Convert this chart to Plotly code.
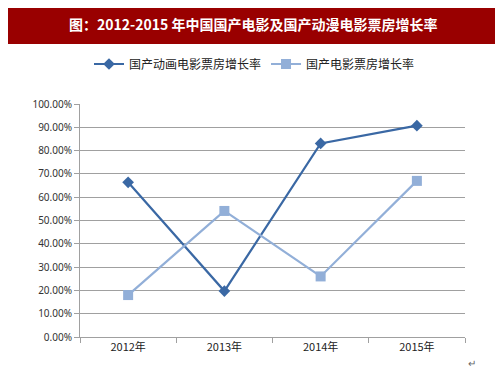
import plotly.graph_objects as go

categories = ["2012年", "2013年", "2014年", "2015年"]
anim_growth = [0.664, 0.197, 0.831, 0.907]
film_growth = [0.18, 0.541, 0.26, 0.67]
series_names = ["国产动画电影票房增长率", "国产电影票房增长率"]
y_ticks = [i / 10 for i in range(11)]
y_tick_labels = [f"{v*100:.2f}%" for v in y_ticks]
title_text = "图：2012-2015 年中国国产电影及国产动漫电影票房增长率"

# page body has an 8px margin; plot area placed at absolute x 80..465, y 104..337
fig = go.Figure()
fig.add_trace(go.Scatter(
    x=categories, y=anim_growth, name=series_names[0], mode="lines+markers",
    line=dict(color="#3A68A4", width=2.2),
    marker=dict(symbol="diamond", size=9, color="#3A68A4"),
))
fig.add_trace(go.Scatter(
    x=categories, y=film_growth, name=series_names[1], mode="lines+markers",
    line=dict(color="#92AFD8", width=2.2),
    marker=dict(symbol="square", size=10, color="#92AFD8"),
))

def px(xabs):
    return (xabs - 80) / 385

def py(yabs):
    return (337 - yabs) / 233

fig.update_layout(
    width=503, height=378,
    margin=dict(l=72, r=46, t=96, b=49),
    paper_bgcolor="white", plot_bgcolor="white",
    font=dict(family="Noto Sans, Noto Sans CJK SC", size=11, color="#333333"),
    showlegend=True,
    legend=dict(orientation="h", x=px(89), y=py(64), xanchor="left", yanchor="middle",
                font=dict(family="Noto Sans CJK SC", size=12, color="#222222"),
                itemwidth=30, tracegroupgap=0, bgcolor="rgba(0,0,0,0)"),
    shapes=[dict(type="rect", xref="paper", yref="paper",
                 x0=px(2), x1=px(500), y0=py(44), y1=py(0),
                 fillcolor="#990000", line=dict(width=0), layer="below")],
    annotations=[
        dict(text="<b>" + title_text + "</b>", xref="paper", yref="paper",
             x=px(253), y=py(24), xanchor="center", yanchor="middle",
             showarrow=False,
             font=dict(family="Noto Sans CJK SC", size=14, color="white")),
        dict(text="↵", xref="paper", yref="paper",
             x=px(472), y=py(363), xanchor="center", yanchor="middle",
             showarrow=False, font=dict(size=10, color="#666666")),
    ],
)
fig.update_xaxes(
    type="category", showgrid=False, showline=True, linecolor="#A0A0A0", linewidth=1,
    ticks="outside", ticklen=5, tickcolor="#A0A0A0", tickson="boundaries",
    tickfont=dict(family="Noto Sans CJK SC", size=11, color="#222222"),
    range=[-0.5, 3.5],
)
fig.update_yaxes(
    range=[0, 1.0], tickvals=y_ticks, ticktext=y_tick_labels,
    showgrid=True, gridcolor="#A0A0A0", gridwidth=1,
    showline=True, linecolor="#A0A0A0", linewidth=1,
    ticks="outside", ticklen=5, tickcolor="#A0A0A0",
    tickfont=dict(family="Noto Sans", size=10, color="#333333"),
    zeroline=False,
)

fig.write_html("out.html")
